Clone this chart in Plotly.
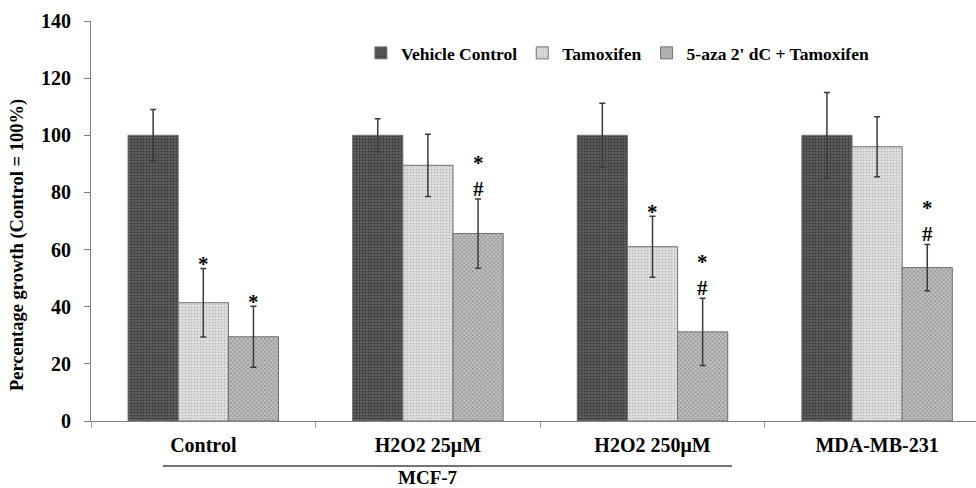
import plotly.graph_objects as go

categories = ["Control", "H2O2 25μM", "H2O2 250μM", "MDA-MB-231"]
series_names = ["Vehicle Control", "Tamoxifen", "5-aza 2' dC + Tamoxifen"]

vehicle = [100, 100, 100, 100]
vehicle_sd = [9.0, 5.8, 11.2, 15.0]
tamoxifen = [41.4, 89.5, 61.0, 96.0]
tamoxifen_sd = [12.0, 10.9, 10.7, 10.5]
aza_tam = [29.5, 65.6, 31.2, 53.7]
aza_tam_sd = [10.7, 12.1, 11.8, 8.1]

tamoxifen_star = [True, False, True, False]
aza_star = [True, True, True, True]
aza_hash = [False, True, True, True]

y_ticks = [0, 20, 40, 60, 80, 100, 120, 140]

FONT = "Liberation Serif"

styles = [
    dict(bg="#5e5e5e", fg="#363636", shape=".", size=3, sol=0.35),
    dict(bg="#e2e2e2", fg="#bcbcbc", shape=".", size=3, sol=0.35),
    dict(bg="#c0c0c0", fg="#777777", shape="x", size=3, sol=0.3),
]

fig = go.Figure()
for name, vals, sds, st in zip(series_names, [vehicle, tamoxifen, aza_tam],
                                [vehicle_sd, tamoxifen_sd, aza_tam_sd], styles):
    fig.add_trace(go.Bar(
        name=name, x=categories, y=vals,
        marker=dict(color=st["bg"],
                    pattern=dict(shape=st["shape"], fgcolor=st["fg"], bgcolor=st["bg"],
                                 size=st["size"], solidity=st["sol"], fillmode="replace"),
                    line=dict(color="#707070", width=1)),
        error_y=dict(type="data", array=sds, visible=True, color="#3a3a3a",
                     thickness=1.5, width=3),
    ))

offsets = [-1, 0, 1]
annots = []
def mark(ci, si, text, shift):
    top = [vehicle, tamoxifen, aza_tam][si][ci] + [vehicle_sd, tamoxifen_sd, aza_tam_sd][si][ci]
    annots.append(dict(x=ci, xshift=offsets[si] * 50.2, y=top, yref="y", xref="x",
                       text=f"<b>{text}</b>", showarrow=False, yanchor="middle",
                       yshift=shift, font=dict(family=FONT, size=21, color="black")))

for ci in range(len(categories)):
    if tamoxifen_star[ci]:
        mark(ci, 1, "*", 4)
    if aza_hash[ci]:
        mark(ci, 2, "#", 10)
        if aza_star[ci]:
            mark(ci, 2, "*", 36)
    elif aza_star[ci]:
        mark(ci, 2, "*", 4)

annots.append(dict(x=1.0, y=-0.14, xref="x", yref="paper",
                   text="<b>MCF-7</b>", showarrow=False, yanchor="middle",
                   font=dict(family=FONT, size=19, color="black")))
annots.append(dict(x=-0.0836, y=0.44, xref="paper", yref="paper", textangle=-90,
                   text="<b>Percentage growth (Control = 100%)</b>", showarrow=False,
                   xanchor="center", yanchor="middle",
                   font=dict(family=FONT, size=18.5, color="black")))

fig.update_layout(
    width=976, height=488,
    margin=dict(l=91, r=0, t=21, b=67),
    paper_bgcolor="white", plot_bgcolor="white",
    barmode="group", bargap=0.33, bargroupgap=0,
    font=dict(family=FONT, size=18, color="black"),
    legend=dict(orientation="h", x=0.305, y=0.92, xanchor="left", yanchor="middle",
                font=dict(family=FONT, size=17.5, color="black", weight="bold"),
                itemwidth=30, bgcolor="rgba(0,0,0,0)", traceorder="normal"),
    annotations=annots,
    showlegend=True,
)

fig.add_shape(type="line", xref="x", yref="paper", x0=-0.18, x1=2.354, y0=-0.1125, y1=-0.1125,
              line=dict(color="#444444", width=1.3))

fig.update_xaxes(
    range=[-0.5, -0.5 + 885 / 224.6], showline=True, linecolor="#808080", linewidth=1,
    ticks="outside", tickson="boundaries", ticklen=6, tickcolor="#a0a0a0",
    tickfont=dict(family=FONT, size=20, color="black", weight="bold"),
    ticklabelstandoff=6, showgrid=False, zeroline=False,
)
fig.update_yaxes(
    range=[0, 140], tickvals=y_ticks, showline=True, linecolor="#808080", linewidth=1,
    ticks="outside", ticklen=6, tickcolor="#808080",
    tickfont=dict(family=FONT, size=20, color="black", weight="bold"),
    ticklabelstandoff=9, showgrid=False, zeroline=False,
)

fig.write_html("out.html")
